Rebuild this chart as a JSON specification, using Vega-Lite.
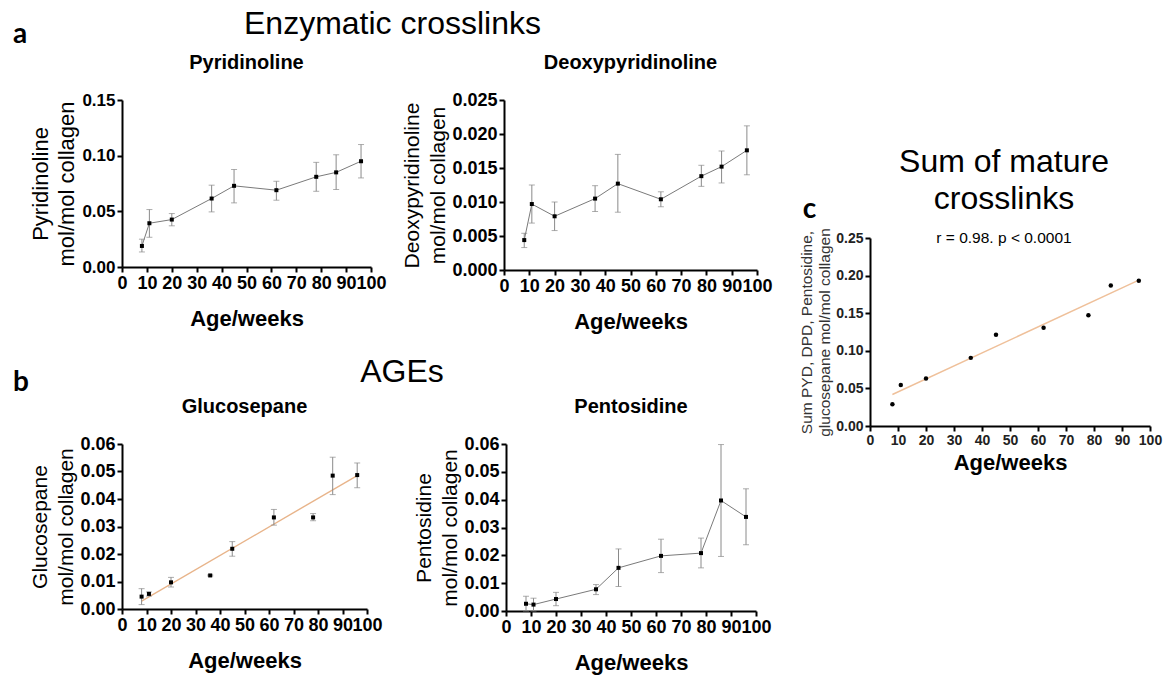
{
  "$schema": "https://vega.github.io/schema/vega-lite/v6.json",
  "padding": {"left": 12, "top": 8, "right": 5, "bottom": 5},
  "datasets": {
    "crosslinks": [
      {"panel": "PYD", "age": 8, "value": 0.0189, "lo": 0.0135, "hi": 0.025},
      {"panel": "PYD", "age": 11, "value": 0.0393, "lo": 0.0267, "hi": 0.0516},
      {"panel": "PYD", "age": 20, "value": 0.0426, "lo": 0.037, "hi": 0.048},
      {"panel": "PYD", "age": 36, "value": 0.0615, "lo": 0.0495, "hi": 0.0735},
      {"panel": "PYD", "age": 45, "value": 0.0729, "lo": 0.0576, "hi": 0.0876},
      {"panel": "PYD", "age": 62, "value": 0.069, "lo": 0.06, "hi": 0.077},
      {"panel": "PYD", "age": 78, "value": 0.081, "lo": 0.068, "hi": 0.094},
      {"panel": "PYD", "age": 86, "value": 0.085, "lo": 0.0696, "hi": 0.1008},
      {"panel": "PYD", "age": 96, "value": 0.095, "lo": 0.08, "hi": 0.11},
      {"panel": "DPD", "age": 8, "value": 0.0044, "lo": 0.0033, "hi": 0.0054},
      {"panel": "DPD", "age": 11, "value": 0.0097, "lo": 0.0069, "hi": 0.0125},
      {"panel": "DPD", "age": 20, "value": 0.0079, "lo": 0.0058, "hi": 0.01},
      {"panel": "DPD", "age": 36, "value": 0.0105, "lo": 0.0086, "hi": 0.0124},
      {"panel": "DPD", "age": 45, "value": 0.0127, "lo": 0.0085, "hi": 0.017},
      {"panel": "DPD", "age": 62, "value": 0.0104, "lo": 0.0093, "hi": 0.0115},
      {"panel": "DPD", "age": 78, "value": 0.0138, "lo": 0.0123, "hi": 0.0154},
      {"panel": "DPD", "age": 86, "value": 0.0152, "lo": 0.0128, "hi": 0.0175},
      {"panel": "DPD", "age": 96, "value": 0.0176, "lo": 0.014, "hi": 0.0212},
      {"panel": "GLU", "age": 8, "value": 0.0045, "lo": 0.0016, "hi": 0.0074},
      {"panel": "GLU", "age": 11, "value": 0.0055, "lo": 0.0047, "hi": 0.0062},
      {"panel": "GLU", "age": 20, "value": 0.0097, "lo": 0.008, "hi": 0.0115},
      {"panel": "GLU", "age": 36, "value": 0.0122, "lo": 0.012, "hi": 0.0124},
      {"panel": "GLU", "age": 45, "value": 0.0219, "lo": 0.0192, "hi": 0.0245},
      {"panel": "GLU", "age": 62, "value": 0.0333, "lo": 0.0305, "hi": 0.0362},
      {"panel": "GLU", "age": 78, "value": 0.0333, "lo": 0.0321, "hi": 0.0347},
      {"panel": "GLU", "age": 86, "value": 0.0485, "lo": 0.0416, "hi": 0.0552},
      {"panel": "GLU", "age": 96, "value": 0.0487, "lo": 0.0441, "hi": 0.0531},
      {"panel": "PEN", "age": 8, "value": 0.0026, "lo": 0.0, "hi": 0.0053},
      {"panel": "PEN", "age": 11, "value": 0.0023, "lo": 0.0, "hi": 0.0046},
      {"panel": "PEN", "age": 20, "value": 0.0043, "lo": 0.0019, "hi": 0.0067},
      {"panel": "PEN", "age": 36, "value": 0.0078, "lo": 0.0059, "hi": 0.0095},
      {"panel": "PEN", "age": 45, "value": 0.0155, "lo": 0.0088, "hi": 0.0223},
      {"panel": "PEN", "age": 62, "value": 0.0198, "lo": 0.0138, "hi": 0.0258},
      {"panel": "PEN", "age": 78, "value": 0.0208, "lo": 0.0155, "hi": 0.0262},
      {"panel": "PEN", "age": 86, "value": 0.0397, "lo": 0.0196, "hi": 0.0598},
      {"panel": "PEN", "age": 96, "value": 0.0338, "lo": 0.0238, "hi": 0.0439},
      {"panel": "SUM", "age": 8, "value": 0.0289},
      {"panel": "SUM", "age": 11, "value": 0.0546},
      {"panel": "SUM", "age": 20, "value": 0.0631},
      {"panel": "SUM", "age": 36, "value": 0.0906},
      {"panel": "SUM", "age": 45, "value": 0.1212},
      {"panel": "SUM", "age": 62, "value": 0.1306},
      {"panel": "SUM", "age": 78, "value": 0.1474},
      {"panel": "SUM", "age": 86, "value": 0.1869},
      {"panel": "SUM", "age": 96, "value": 0.1932}
    ]
  },
  "hconcat": [
    {
      "vconcat": [
        {
          "title": {"text": "Enzymatic crosslinks", "fontSize": 32, "fontWeight": "normal", "anchor": "middle", "frame": "bounds", "offset": 0, "dy": 20},
          "vconcat": [
            {
              "title": {"text": "a", "font": "Lato", "fontSize": 28, "fontWeight": "bold", "anchor": "start", "frame": "bounds", "offset": 0, "dx": -17, "dy": -4},
              "bounds": "flush",
              "spacing": 133,
              "hconcat": [
                {
                  "width": 249, "height": 167,
                  "title": {"text": "Pyridinoline", "fontSize": 20, "fontWeight": "bold", "offset": 18, "anchor": "middle", "frame": "group"},
                  "data": {"name": "crosslinks"},
                  "transform": [{"filter": "datum.panel === 'PYD'"}],
                  "encoding": {
                    "x": {"field": "age", "type": "quantitative", "scale": {"domain": [0, 100], "nice": false}, "axis": {"values": [0, 10, 20, 30, 40, 50, 60, 70, 80, 90, 100], "title": "Age/weeks"}},
                    "y": {"field": "value", "type": "quantitative", "title": ["Pyridinoline", "mol/mol collagen"], "scale": {"domain": [0, 0.15], "nice": false}, "axis": {"values": [0, 0.05, 0.1, 0.15], "format": ".2f", "labelFontSize": 17, "titleFontSize": 22}}
                  },
                  "layer": [
                    {"mark": {"type": "errorbar", "ticks": {"size": 6, "color": "#8a8a8a", "thickness": 1}, "rule": {"color": "#8a8a8a", "strokeWidth": 1}},
                     "encoding": {"y": {"field": "lo", "type": "quantitative", "title": ["Pyridinoline", "mol/mol collagen"]}, "y2": {"field": "hi"}}},
                    {"mark": {"type": "line", "color": "#7a7a7a", "strokeWidth": 1}},
                    {"mark": {"type": "square", "size": 16, "color": "#000", "opacity": 1}}
                  ]
                },
                {
                  "width": 253, "height": 170,
                  "title": {"text": "Deoxypyridinoline", "fontSize": 20, "fontWeight": "bold", "offset": 18, "anchor": "middle", "frame": "group"},
                  "data": {"name": "crosslinks"},
                  "transform": [{"filter": "datum.panel === 'DPD'"}],
                  "encoding": {
                    "x": {"field": "age", "type": "quantitative", "scale": {"domain": [0, 100], "nice": false}, "axis": {"values": [0, 10, 20, 30, 40, 50, 60, 70, 80, 90, 100], "title": "Age/weeks"}},
                    "y": {"field": "value", "type": "quantitative", "title": ["Deoxypyridinoline", "mol/mol collagen"], "scale": {"domain": [0, 0.025], "nice": false}, "axis": {"values": [0, 0.005, 0.01, 0.015, 0.02, 0.025], "format": ".3f"}}
                  },
                  "layer": [
                    {"mark": {"type": "errorbar", "ticks": {"size": 6, "color": "#8a8a8a", "thickness": 1}, "rule": {"color": "#8a8a8a", "strokeWidth": 1}},
                     "encoding": {"y": {"field": "lo", "type": "quantitative", "title": ["Deoxypyridinoline", "mol/mol collagen"]}, "y2": {"field": "hi"}}},
                    {"mark": {"type": "line", "color": "#7a7a7a", "strokeWidth": 1}},
                    {"mark": {"type": "square", "size": 16, "color": "#000", "opacity": 1}}
                  ]
                }
              ]
            }
          ]
        },
        {
          "title": {"text": "AGEs", "fontSize": 32, "fontWeight": "normal", "anchor": "middle", "frame": "bounds", "offset": 0, "dy": 20, "dx": 10},
          "vconcat": [
            {
              "title": {"text": "b", "font": "Lato", "fontSize": 28, "fontWeight": "bold", "anchor": "start", "frame": "bounds", "offset": 0, "dx": -17},
              "bounds": "flush",
              "spacing": 139,
              "hconcat": [
                {
                  "width": 245, "height": 165,
                  "title": {"text": "Glucosepane", "fontSize": 20, "fontWeight": "bold", "offset": 18, "anchor": "middle", "frame": "group"},
                  "data": {"name": "crosslinks"},
                  "transform": [{"filter": "datum.panel === 'GLU'"}],
                  "encoding": {
                    "x": {"field": "age", "type": "quantitative", "scale": {"domain": [0, 100], "nice": false}, "axis": {"values": [0, 10, 20, 30, 40, 50, 60, 70, 80, 90, 100], "title": "Age/weeks"}},
                    "y": {"field": "value", "type": "quantitative", "title": ["Glucosepane", "mol/mol collagen"], "scale": {"domain": [0, 0.06], "nice": false}, "axis": {"values": [0, 0.01, 0.02, 0.03, 0.04, 0.05, 0.06], "format": ".2f"}}
                  },
                  "layer": [
                    {"transform": [{"regression": "value", "on": "age"}],
                     "mark": {"type": "line", "color": "#e8b48a", "strokeWidth": 1.4}},
                    {"mark": {"type": "errorbar", "ticks": {"size": 6, "color": "#8a8a8a", "thickness": 1}, "rule": {"color": "#8a8a8a", "strokeWidth": 1}},
                     "encoding": {"y": {"field": "lo", "type": "quantitative", "title": ["Glucosepane", "mol/mol collagen"]}, "y2": {"field": "hi"}}},
                    {"mark": {"type": "square", "size": 16, "color": "#000", "opacity": 1}}
                  ]
                },
                {
                  "width": 250, "height": 167,
                  "title": {"text": "Pentosidine", "fontSize": 20, "fontWeight": "bold", "offset": 18, "anchor": "middle", "frame": "group"},
                  "data": {"name": "crosslinks"},
                  "transform": [{"filter": "datum.panel === 'PEN'"}],
                  "encoding": {
                    "x": {"field": "age", "type": "quantitative", "scale": {"domain": [0, 100], "nice": false}, "axis": {"values": [0, 10, 20, 30, 40, 50, 60, 70, 80, 90, 100], "title": "Age/weeks"}},
                    "y": {"field": "value", "type": "quantitative", "title": ["Pentosidine", "mol/mol collagen"], "scale": {"domain": [0, 0.06], "nice": false}, "axis": {"values": [0, 0.01, 0.02, 0.03, 0.04, 0.05, 0.06], "format": ".2f"}}
                  },
                  "layer": [
                    {"mark": {"type": "errorbar", "ticks": {"size": 6, "color": "#8a8a8a", "thickness": 1}, "rule": {"color": "#8a8a8a", "strokeWidth": 1}},
                     "encoding": {"y": {"field": "lo", "type": "quantitative", "title": ["Pentosidine", "mol/mol collagen"]}, "y2": {"field": "hi"}}},
                    {"mark": {"type": "line", "color": "#7a7a7a", "strokeWidth": 1}},
                    {"mark": {"type": "square", "size": 16, "color": "#000", "opacity": 1}}
                  ]
                }
              ]
            }
          ]
        }
      ],
      "spacing": 24
    },
    {
      "spacing": 0,
      "vconcat": [
        {
          "width": 10, "height": 46,
          "data": {"values": [{"blank": ""}]},
          "mark": {"type": "text"},
          "encoding": {"text": {"field": "blank"}}
        },
        {
          "title": {"text": "c", "font": "Lato", "fontSize": 28, "fontWeight": "bold", "anchor": "start", "frame": "bounds", "offset": 0, "dx": 3, "dy": 78},
          "vconcat": [
            {
              "width": 280, "height": 188,
              "title": {"text": ["Sum of mature", "crosslinks"], "fontSize": 32, "fontWeight": "normal", "lineHeight": 37, "offset": -22, "anchor": "middle", "frame": "group", "dx": -6,
                        "subtitle": "r = 0.98. p < 0.0001", "subtitleFont": "Liberation Sans", "subtitleFontSize": 15.5, "subtitleColor": "#000", "subtitlePadding": 15},
              "data": {"name": "crosslinks"},
              "transform": [{"filter": "datum.panel === 'SUM'"}],
              "encoding": {
                "x": {"field": "age", "type": "quantitative", "scale": {"domain": [0, 100], "nice": false}, "axis": {"values": [0, 10, 20, 30, 40, 50, 60, 70, 80, 90, 100], "title": "Age/weeks", "labelFontSize": 14, "labelColor": "#222", "titlePadding": 5}},
                "y": {"field": "value", "type": "quantitative", "title": ["Sum PYD, DPD, Pentosidine,", "glucosepane  mol/mol collagen"], "scale": {"domain": [0, 0.25], "nice": false}, "axis": {"values": [0, 0.05, 0.1, 0.15, 0.2, 0.25], "format": ".2f", "labelFontSize": 14, "labelColor": "#222", "titleFontSize": 15.5, "titleColor": "#333", "titleLineHeight": 18, "titlePadding": 3}}
              },
              "layer": [
                {"transform": [{"regression": "value", "on": "age"}],
                 "mark": {"type": "line", "color": "#efc09a", "strokeWidth": 1.4}},
                {"mark": {"type": "circle", "size": 20, "color": "#000", "opacity": 1}}
              ]
            }
          ]
        }
      ]
    }
  ],
  "spacing": 26,
  "config": {
    "view": {"stroke": null},
    "font": "Liberation Sans",
    "title": {"font": "Liberation Sans", "color": "#000"},
    "axis": {"grid": false, "domainColor": "#000", "domainWidth": 2, "tickColor": "#000", "tickWidth": 2, "tickSize": 5, "labelColor": "#000", "labelFont": "Liberation Sans", "labelFontWeight": "bold", "labelFontSize": 18, "labelPadding": 2, "titleColor": "#000", "titleFont": "Liberation Sans", "labelBound": false},
    "axisX": {"titleFontSize": 22, "titleFontWeight": "bold", "labelOverlap": false, "labelFlush": false, "titlePadding": 16},
    "axisY": {"titleFontWeight": "normal", "titleFontSize": 21, "titleLineHeight": 26, "titlePadding": 3}
  }
}
